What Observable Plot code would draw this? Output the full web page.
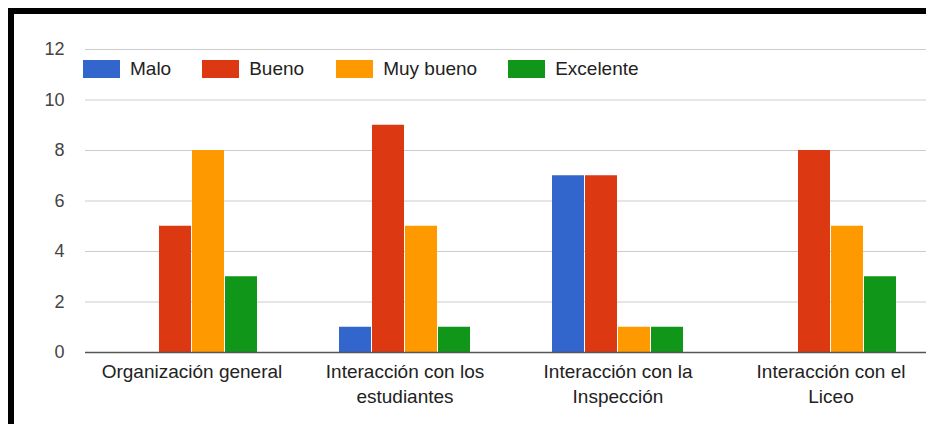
<!DOCTYPE html>
<html>
<head>
<meta charset="utf-8">
<script src="https://cdn.jsdelivr.net/npm/d3@7"></script>
<script src="https://cdn.jsdelivr.net/npm/@observablehq/plot@0.6"></script>
<style>
  html, body { margin: 0; padding: 0; background: #fff; overflow: hidden; width: 926px; height: 424px; }
  #frame { position: absolute; left: 8px; top: 8px; width: 912px; height: 416px; border-top: 6px solid #000; border-left: 6px solid #000; overflow: hidden; }
  #chart { position: absolute; left: 0; top: 0; width: 924px; }
  #chart svg { max-width: none !important; width: 924px !important; height: 410px !important; }
  #legend { position: absolute; left: 69px; top: 44px; display: flex; align-items: center; font-family: "Liberation Sans", Arial, sans-serif; font-size: 19px; color: #222; height: 22px; }
  #legend .item { display: flex; align-items: center; }
  #legend .sw { width: 37px; height: 18px; margin-right: 10px; }
</style>
</head>
<body>
<div id="frame"><div id="chart"></div><div id="legend"></div></div>
<script>
const categories = ["Organización general", "Interacción con los estudiantes", "Interacción con la Inspección", "Interacción con el Liceo"];
const categoryLabels = ["Organización general", "Interacción con los\nestudiantes", "Interacción con la\nInspección", "Interacción con el\nLiceo"];
const series = ["Malo", "Bueno", "Muy bueno", "Excelente"];
const colors = ["#3366cc", "#dc3912", "#ff9900", "#109618"];
const malo = [0, 1, 7, 0];
const bueno = [5, 9, 7, 8];
const muyBueno = [8, 5, 1, 5];
const excelente = [3, 1, 1, 3];
const yTicks = [0, 2, 4, 6, 8, 10, 12];

const seriesValues = [malo, bueno, muyBueno, excelente];
const data = [];
categories.forEach((c, i) => {
  series.forEach((s, j) => {
    data.push({category: c, series: s, value: seriesValues[j][i]});
  });
});
const labelOf = new Map(categories.map((c, i) => [c, categoryLabels[i]]));

const chart = Plot.plot({
  width: 924,
  height: 410,
  marginLeft: 69,
  marginRight: 0,
  marginTop: 35,
  marginBottom: 72,
  style: {fontFamily: "'Liberation Sans', Arial, sans-serif", fontSize: "19px", color: "#222", background: "transparent"},
  fx: {domain: categories, padding: 0, label: null, axis: null},
  x: {domain: series, axis: null, paddingInner: 0.045, paddingOuter: 1.18},
  y: {domain: [0, 12], axis: null},
  color: {domain: series, range: colors},
  marks: [
    Plot.gridY(yTicks, {stroke: "#cccccc", strokeOpacity: 1}),
    Plot.axisY(yTicks, {tickSize: 0, tickPadding: 21, fill: "#444", fontSize: 18, label: null}),
    Plot.axisFx({anchor: "bottom", tickFormat: d => labelOf.get(d), tickSize: 0, tickPadding: 8, fontSize: 19, lineHeight: 1.32, fill: "#222", label: null}),
    Plot.barY(data.filter(d => d.value > 0), {fx: "category", x: "series", y: "value", fill: "series"}),
    Plot.ruleY([0], {stroke: "#555", strokeWidth: 1.4})
  ]
});
document.getElementById("chart").appendChild(chart);

const legend = document.getElementById("legend");
const gaps = [31, 32, 31, 0];
series.forEach((s, i) => {
  const item = document.createElement("div");
  item.className = "item";
  item.style.marginRight = gaps[i] + "px";
  const sw = document.createElement("div");
  sw.className = "sw";
  sw.style.background = colors[i];
  const t = document.createElement("span");
  t.textContent = s;
  item.appendChild(sw);
  item.appendChild(t);
  legend.appendChild(item);
});
</script>
</body>
</html>
